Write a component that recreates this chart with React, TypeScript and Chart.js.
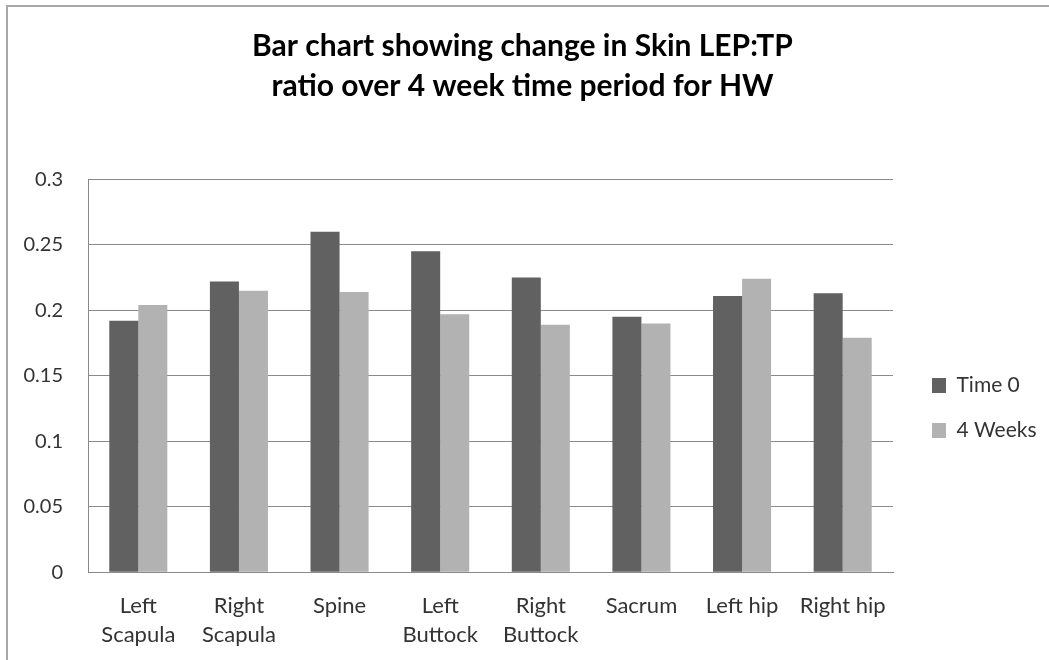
import React, { useEffect, useRef } from "react";
import { Chart, registerables } from "chart.js";

Chart.register(...registerables);

const categories: (string | string[])[] = [
  ["Left", "Scapula"],
  ["Right", "Scapula"],
  "Spine",
  ["Left", "Buttock"],
  ["Right", "Buttock"],
  "Sacrum",
  "Left hip",
  "Right hip",
];
const seriesNames = ["Time 0", "4 Weeks"];
const time0 = [0.192, 0.222, 0.26, 0.245, 0.225, 0.195, 0.211, 0.213];
const weeks4 = [0.204, 0.215, 0.214, 0.197, 0.189, 0.19, 0.224, 0.179];
const yTickLabels = ["0", "0.05", "0.1", "0.15", "0.2", "0.25", "0.3"];
const titleLines = [
  "Bar chart showing change in Skin LEP:TP",
  "ratio over 4 week time period for HW",
];

const FONT = "Lato, 'Open Sans', sans-serif";

export default function App() {
  const ref = useRef<HTMLCanvasElement | null>(null);

  useEffect(() => {
    if (!ref.current) return;
    const boxPlace = {
      id: "boxPlace",
      afterLayout(chart: any) {
        const l = chart.legend;
        if (l) {
          l.left = 908;
          l.right = 1049;
          l.width = 141;
          l.top = 351;
          l.bottom = 660;
          l.height = 309;
        }
        const t = chart.titleBlock;
        if (t) {
          t.left = -4;
          t.right = 1049;
          t.width = 1053;
        }
      },
    };
    const chart = new Chart(ref.current, {
      type: "bar",
      data: {
        labels: categories,
        datasets: [
          {
            label: seriesNames[0],
            data: time0,
            backgroundColor: "#616161",
            borderWidth: 0,
            categoryPercentage: 0.577,
            barPercentage: 1,
          },
          {
            label: seriesNames[1],
            data: weeks4,
            backgroundColor: "#b2b2b2",
            borderWidth: 0,
            categoryPercentage: 0.577,
            barPercentage: 1,
          },
        ],
      },
      options: {
        animation: false,
        responsive: false,
        devicePixelRatio: 1,
        layout: { padding: { left: 0, right: 56, top: 0, bottom: 0 } },
        plugins: {
          title: {
            display: true,
            text: titleLines,
            color: "#000",
            font: { family: FONT, size: 30, weight: "bold", lineHeight: "40px" },
            padding: { top: 26, bottom: 73.3 },
          },
          legend: {
            display: true,
            position: "right",
            align: "start",
            maxWidth: 100,
            labels: {
              color: "#333",
              font: { family: FONT, size: 21 },
              boxWidth: 14,
              boxHeight: 15,
              padding: 24,
            },
          },
          tooltip: { enabled: false },
        },
        scales: {
          x: {
            grid: { display: false },
            border: { display: true, color: "#8a8a8a", width: 1 },
            ticks: {
              color: "#333",
              font: { family: FONT, size: 22, lineHeight: "29px" },
              padding: 11,
              maxRotation: 0,
              autoSkip: false,
            },
            afterFit(scale: any) {
              scale.height = 87.7;
            },
          },
          y: {
            min: 0,
            max: 0.3,
            grid: { color: "#8a8a8a", lineWidth: 1, drawTicks: false },
            border: { display: true, color: "#8a8a8a", width: 1 },
            ticks: {
              stepSize: 0.05,
              color: "#333",
              font: { family: FONT, size: 20 },
              padding: 25,
              callback: (_v: any, i: number) => yTickLabels[i],
            },
            afterFit(scale: any) {
              scale.width = 88;
            },
          },
        },
      },
      plugins: [boxPlace],
    });
    return () => chart.destroy();
  }, []);

  return (
    <div style={{ position: "fixed", left: 0, top: 0, width: 1049, height: 660, background: "#fff", overflow: "hidden" }}>
      <div
        style={{
          position: "absolute",
          left: 6,
          top: 5,
          width: 1100,
          height: 700,
          borderTop: "2px solid #a8a8a8",
          borderLeft: "2px solid #a8a8a8",
        }}
      />
      <canvas
        ref={ref}
        width={1049}
        height={660}
        style={{ position: "absolute", left: 0, top: 0, width: 1049, height: 660 }}
      />
    </div>
  );
}
